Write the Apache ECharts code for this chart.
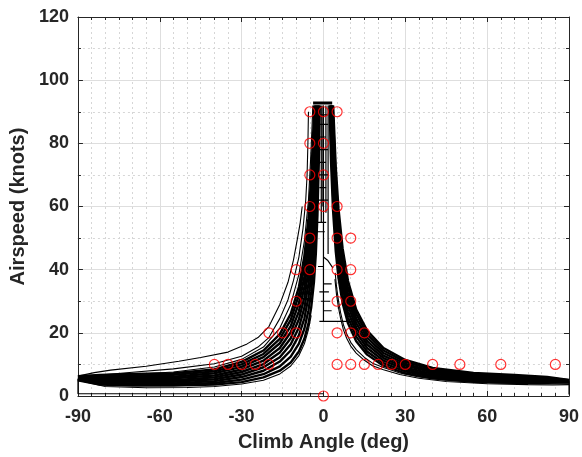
<!DOCTYPE html>
<html>
<head>
<meta charset="utf-8">
<script src="https://cdn.jsdelivr.net/npm/echarts@6/dist/echarts.min.js"></script>
<style>
html,body{margin:0;padding:0;background:#fff;}
#chart{width:582px;height:457px;}
</style>
</head>
<body>
<div id="chart"></div>
<script>
// ---- data: [climb angle (deg), airspeed (knots)] ----
const leftBand = [
  [[-90,5.0],[-82,3.6],[-70,3.3],[-55,3.3],[-40,3.6],[-30,4.4],[-22,5.9],[-16,8.0],[-12,10.6],[-9,14.1],[-7,18.1],[-5.5,22.9],[-4.5,28.0],[-3.5,36.0],[-2.8,45.0],[-2.2,57.3],[-1.7,74.2],[-1.37,92]],
  [[-90,5.2],[-82,3.9],[-70,3.6],[-55,3.6],[-40,4.1],[-30,5.2],[-22,6.9],[-16,9.4],[-12,12.5],[-9,16.6],[-7,21.3],[-5.5,27.1],[-4.5,33.1],[-3.5,42.6],[-2.8,53.2],[-2.2,67.7],[-1.62,92]],
  [[-90,5.4],[-82,4.3],[-70,4.0],[-55,4.0],[-40,4.7],[-30,6.0],[-22,8.0],[-16,10.9],[-12,14.4],[-9,19.2],[-7,24.6],[-5.5,31.3],[-4.5,38.2],[-3.5,49.1],[-2.8,61.4],[-2.2,78.2],[-1.87,92]],
  [[-90,5.5],[-82,4.7],[-70,4.5],[-55,4.5],[-40,5.3],[-30,6.8],[-22,9.1],[-16,12.3],[-12,16.4],[-9,21.7],[-7,27.9],[-5.5,35.5],[-4.5,43.3],[-3.5,55.7],[-2.8,69.6],[-2.12,92]],
  [[-90,5.7],[-82,5.1],[-70,5.0],[-55,5.0],[-40,5.9],[-30,7.6],[-22,10.1],[-16,13.8],[-12,18.3],[-9,24.3],[-7,31.2],[-5.5,39.6],[-4.5,48.4],[-3.5,62.2],[-2.8,77.8],[-2.37,92]],
  [[-90,5.8],[-82,5.5],[-70,5.5],[-55,5.6],[-40,6.5],[-30,8.4],[-22,11.2],[-16,15.2],[-12,20.2],[-9,26.8],[-7,34.5],[-5.5,43.8],[-4.5,53.5],[-3.5,68.8],[-2.8,86.0],[-2.62,92]],
  [[-90,6.0],[-82,5.9],[-70,6.0],[-55,6.1],[-40,7.2],[-30,9.2],[-22,12.3],[-16,16.7],[-12,22.1],[-9,29.4],[-7,37.7],[-5.5,48.0],[-4.5,58.6],[-3.5,75.3],[-2.87,92]],
  [[-90,6.2],[-82,6.3],[-70,6.5],[-55,6.7],[-40,7.8],[-30,10.0],[-22,13.3],[-16,18.1],[-12,24.1],[-9,32.0],[-7,41.0],[-5.5,52.2],[-4.5,63.7],[-3.5,81.9],[-3.12,92]],
  [[-90,6.3],[-82,6.7],[-70,7.0],[-55,7.2],[-40,8.4],[-30,10.8],[-22,14.4],[-16,19.6],[-12,26.0],[-9,34.5],[-7,44.3],[-5.5,56.3],[-4.5,68.8],[-3.5,88.5],[-3.37,92]]
];
const leftOuter = [
  [[-90,6.3],[-84,7.4],[-78,8.2],[-65,9.4],[-53,11.0],[-45,12.2],[-35,13.9],[-28,16.5],[-24,18.5],[-20,22],[-16,29],[-13,36],[-11,43],[-9.5,50],[-8.5,55],[-7.8,60]],
  [[-90,6.0],[-82,6.6],[-70,7.5],[-55,8.6],[-40,10.2],[-30,12.6],[-24,15.5],[-20,18.5],[-16,24.5],[-13,30.5],[-11,36.5],[-9,44],[-7.5,53],[-6.5,62],[-6,70],[-5.7,80],[-5.5,90]],
  [[-90,5.8],[-80,6.4],[-70,6.8],[-55,7.6],[-40,9.2],[-30,11.6],[-22,15.5],[-16,21.5],[-12,29],[-9,38.5],[-7,49],[-5.5,62],[-4.7,75],[-4.2,85],[-3.9,92]]
];
const leftLower = [
  [[-90,5.0],[-80,3.0],[-65,2.6],[-50,2.7],[-40,3.0],[-30,3.8],[-22,5.0],[-16,7.0],[-12,9.5],[-9,12.8],[-7,16.5],[-5.5,21],[-4.5,25.5]]
];
const rightBand = [
  [[90,4.3],[82,4.2],[70,4.2],[55,4.5],[40,5.6],[30,7.2],[22,9.6],[16,13.1],[12,17.3],[9,23.0],[7,29.5],[5.5,37.5],[4.5,45.9],[3.5,59.0],[2.8,73.7],[2.24,92]],
  [[90,4.4],[82,4.4],[70,4.5],[55,4.8],[40,6.1],[30,7.8],[22,10.4],[16,14.1],[12,18.8],[9,24.9],[7,32.0],[5.5,40.7],[4.5,49.7],[3.5,63.9],[2.8,79.8],[2.43,92]],
  [[90,4.5],[82,4.6],[70,4.8],[55,5.2],[40,6.5],[30,8.4],[22,11.2],[16,15.2],[12,20.2],[9,26.8],[7,34.5],[5.5,43.8],[4.5,53.5],[3.5,68.8],[2.8,86.0],[2.62,92]],
  [[90,4.6],[82,4.8],[70,5.1],[55,5.6],[40,7.0],[30,9.0],[22,12.0],[16,16.3],[12,21.6],[9,28.8],[7,36.9],[5.5,46.9],[4.5,57.4],[3.5,73.7],[2.8,92]],
  [[90,4.8],[82,5.1],[70,5.5],[55,6.0],[40,7.5],[30,9.6],[22,12.8],[16,17.4],[12,23.1],[9,30.7],[7,39.4],[5.5,50.1],[4.5,61.2],[3.5,78.6],[2.99,92]],
  [[90,4.9],[82,5.4],[70,5.9],[55,6.4],[40,7.9],[30,10.2],[22,13.6],[16,18.5],[12,24.5],[9,32.6],[7,41.9],[5.5,53.2],[4.5,65.0],[3.5,83.5],[3.18,92]],
  [[90,5.0],[82,5.7],[70,6.3],[55,6.9],[40,8.4],[30,10.8],[22,14.4],[16,19.6],[12,26.0],[9,34.5],[7,44.3],[5.5,56.3],[4.5,68.8],[3.5,88.5],[3.37,92]],
  [[90,5.1],[82,6.0],[70,6.7],[55,7.3],[40,8.9],[30,11.4],[22,15.2],[16,20.7],[12,27.4],[9,36.4],[7,46.8],[5.5,59.4],[4.5,72.6],[3.55,92]]
];
const rightLower = [
  [[90,3.6],[84,3.5],[75,3.6],[60,3.9],[45,4.6],[35,5.6],[28,6.8],[22,8.3],[18,9.6],[15,11.3],[12,13.6],[10,15.8],[8.5,18.3],[7.3,21],[6.3,24.5],[5.5,28],[4.8,32],[4.2,37]],
  [[90,3.9],[84,3.8],[75,3.9],[60,4.2],[45,5.0],[35,6.0],[28,7.3],[22,9.0],[18,10.4],[15,12.2],[12,14.7],[10,17.0],[8.5,19.7],[7.3,22.6],[6.3,26.3],[5.5,30.2],[4.8,34.5],[4.3,39]]
];
const edgeLines = [
  [[-90,5.5],[-90,0.7],[0,0.7]],
  [[90,4.7],[90,0.5]]
];
const towerLines = [
  [[0,23.6],[0,92]],
  [[-0.8,55],[-0.8,92]],
  [[-0.2,60],[-0.2,92]],
  [[0.9,58],[0.9,92]],
  [[1.7,45],[1.7,92]],
  [[-1.5,23.6],[9.5,23.6]],
  [[0,27],[3,27]],
  [[-1,30],[2.5,30]],
  [[-1.5,33],[2,33]],
  [[0,35.5],[3,35.5]],
  [[-2,41],[0,41]],
  [[0,44],[1.5,43],[3.5,40.5]],
  [[-2.5,52],[0.5,52]],
  [[-2,55],[1,55]],
  [[-2,62],[1.7,62]],
  [[-1.5,66],[1,66]],
  [[-2,70],[1.7,70]],
  [[-1.5,74],[0.9,74]],
  [[-2,78],[1.7,78]],
  [[-1.5,82],[0.9,82]],
  [[-2,86],[1.7,86]],
  [[-1.5,89],[1.5,89]]
];
const capLine = [[-3.8,92.8],[3.2,92.8]];
const circles = [
  [-5,90],[0,90],[5,90],
  [-5,80],[0,80],
  [-5,70],[0,70],
  [-5,60],[0,60],[5,60],
  [-5,50],[5,50],[10,50],
  [-10,40],[-5,40],[5,40],[10,40],
  [-10,30],[5,30],[10,30],
  [-20,20],[-15,20],[-10,20],[5,20],[10,20],[15,20],
  [-40,10],[-35,10],[-30,10],[-25,10],[-20,10],[5,10],[10,10],[15,10],[20,10],[25,10],[30,10],[40,10],[50,10],[65,10],[85,10],
  [0,0]
];

// ---- chart ----
const ink = '#262626';
const font = 'Liberation Sans, Arial, sans-serif';
function lineSeries(data, width) {
  return {
    type: 'line', data: data, showSymbol: false, symbol: 'none',
    lineStyle: { color: '#000', width: width }, silent: true, animation: false, z: 2
  };
}
const series = [];
leftBand.forEach(c => series.push(lineSeries(c, 2.4)));
rightBand.forEach(c => series.push(lineSeries(c, 2.4)));
leftOuter.forEach(c => series.push(lineSeries(c, 1.1)));
leftLower.forEach(c => series.push(lineSeries(c, 1.1)));
rightLower.forEach(c => series.push(lineSeries(c, 1.1)));
edgeLines.forEach(c => series.push(lineSeries(c, 1.1)));
towerLines.forEach(c => series.push(lineSeries(c, 1.2)));
series.push(lineSeries(capLine, 3));
series.push({
  type: 'scatter', data: circles, symbol: 'circle', symbolSize: 10,
  itemStyle: { color: 'rgba(0,0,0,0)', borderColor: '#ff0000', borderWidth: 1.2 },
  z: 5, animation: false, silent: true
});

function xAxisCfg(pos, main) {
  return {
    type: 'value', position: pos, min: -90, max: 90, interval: 30,
    axisLine: { show: true, onZero: false, lineStyle: { color: ink, width: 1 } },
    axisTick: { show: true, inside: true, length: 5, lineStyle: { color: ink } },
    minorTick: { show: true, splitNumber: 6, length: 3, lineStyle: { color: ink } },
    axisLabel: { show: main, color: ink, fontFamily: font, fontWeight: 'bold', fontSize: 18, margin: 12 },
    splitLine: { show: main, lineStyle: { color: '#dedede', width: 1 } },
    minorSplitLine: { show: main, lineStyle: { color: '#d6d6d6', width: 1, type: [2, 3] } },
    name: main ? 'Climb Angle (deg)' : '', nameLocation: 'middle', nameGap: 36,
    nameTextStyle: { color: ink, fontFamily: font, fontWeight: 'bold', fontSize: 20 }
  };
}
function yAxisCfg(pos, main) {
  return {
    type: 'value', position: pos, min: 0, max: 120, interval: 20,
    axisLine: { show: true, onZero: false, lineStyle: { color: ink, width: 1 } },
    axisTick: { show: true, inside: true, length: 5, lineStyle: { color: ink } },
    minorTick: { show: true, splitNumber: 2, length: 3, lineStyle: { color: ink } },
    axisLabel: { show: main, color: ink, fontFamily: font, fontWeight: 'bold', fontSize: 18, margin: 9 },
    splitLine: { show: main, lineStyle: { color: '#dedede', width: 1 } },
    minorSplitLine: { show: main, lineStyle: { color: '#d6d6d6', width: 1, type: [2, 3] } },
    name: main ? 'Airspeed (knots)' : '', nameLocation: 'middle', nameGap: 46,
    nameTextStyle: { color: ink, fontFamily: font, fontWeight: 'bold', fontSize: 20 }
  };
}

const chart = echarts.init(document.getElementById('chart'), null, { renderer: 'canvas' });
chart.setOption({
  animation: false,
  backgroundColor: '#fff',
  grid: { left: 77, right: 13, top: 17, bottom: 60, containLabel: false },
  xAxis: [xAxisCfg('bottom', true), xAxisCfg('top', false)],
  yAxis: [yAxisCfg('left', true), yAxisCfg('right', false)],
  series: series
});
</script>
</body>
</html>
